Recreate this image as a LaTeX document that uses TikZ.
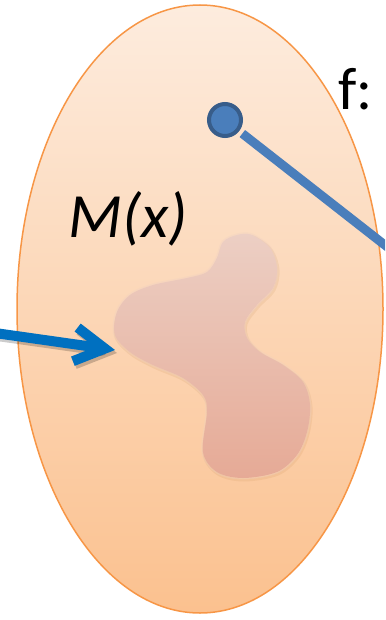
\documentclass[tikz,border=0pt]{standalone}
\usepackage{fontspec}
\setmainfont{Carlito}
\usetikzlibrary{arrows.meta}
\definecolor{elltop}{RGB}{253,236,222}
\definecolor{ellbot}{RGB}{251,193,143}
\definecolor{ellline}{RGB}{247,150,70}
\definecolor{ptfill}{RGB}{74,126,187}
\definecolor{ptline}{RGB}{56,93,138}
\definecolor{arrblue}{RGB}{0,112,192}
\definecolor{blobtop}{RGB}{236,207,196}
\definecolor{blobmid}{RGB}{253,186,186}
\definecolor{blobbot}{RGB}{230,170,150}
\tikzset{bigtext/.style={inner sep=0,font=\fontsize{60}{60}\selectfont}}

\begin{document}
\begin{tikzpicture}[x=1pt,y=-1pt,>={Straight Barb[length=30pt,width=34pt]}]
\useasboundingbox (0,0) rectangle (385,620);
\clip (0,0) rectangle (385,620);
\shade[top color=elltop,bottom color=ellbot] (200,309) ellipse (183 and 304);
\draw[ellline,line width=1.5] (200,309) ellipse (183 and 304);
% the blob
\def\blob{plot[smooth cycle,tension=.55] coordinates {(237,235) (252,235) (270,248) (277,268) (273,288) (257,305)
  (245,322) (247,338) (260,352) (283,365) (303,382) (310,405) (307,432) (297,455) (277,472)
  (243,478) (217,472) (203,452) (207,412) (203,395) (183,378) (153,365) (130,352) (115,335)
  (117,312) (130,295) (153,285) (187,278) (207,272) (217,258) (223,242)}}
\draw[brown,line width=3,draw opacity=.12,shift={(1,2)}] \blob;
\draw[blobtop,line width=3,draw opacity=.3] \blob;
\shade[top color=blobtop,middle color=blobmid,bottom color=blobbot] \blob;
% point and its image
\node[circle,fill=ptfill,draw=ptline,line width=4,minimum size=32,inner sep=0] (pt) at (225,120) {};
\coordinate (fend) at (395,253);
\draw[ptfill,line width=9,shorten <=4] (pt) -- (fend);
% arrow into the blob
\coordinate (astart) at (-5,333);
\coordinate (atip) at (115,350);
\draw[black,opacity=.2,line width=10,line cap=round,->] ([shift={(2,3)}]astart) -- ([shift={(2,3)}]atip);
\draw[arrblue,line width=10,line cap=round,->] (astart) -- (atip);
\node[bigtext,anchor=base west] (flabel) at (338,110) {f:};
\node[bigtext,anchor=base west,font=\fontsize{63}{63}\selectfont\itshape] (mlabel) at (68,237) {M(x)};
\end{tikzpicture}
\end{document}
